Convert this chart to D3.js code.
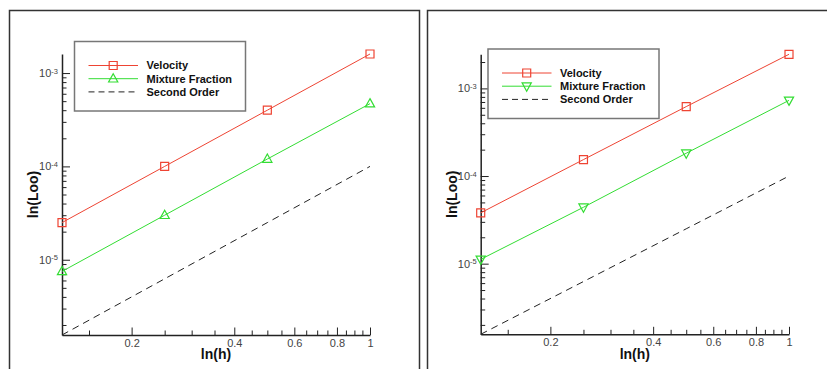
<!DOCTYPE html>
<html>
<head>
<meta charset="utf-8">
<script src="https://cdn.jsdelivr.net/npm/d3@7"></script>
<style>
  body { margin: 0; background: #fff; }
  svg { display: block; font-family: "Liberation Sans", Arial, sans-serif; }
</style>
</head>
<body>
<div id="graph-container"></div>
<script>
const width = 827, height = 369;

// grid spacing h (shared by both panels)
const hValues = [0.125, 0.25, 0.5, 1];

// left panel errors
const velocityLeft = [2.5e-5, 1.0e-4, 4.0e-4, 1.6e-3];
const mixtureLeft = [7.5e-6, 3.0e-5, 1.2e-4, 4.7e-4];

// right panel errors
const velocityRight = [3.8e-5, 1.54e-4, 6.2e-4, 2.45e-3];
const mixtureRight = [1.12e-5, 4.4e-5, 1.82e-4, 7.3e-4];

// reference slope line
const secondOrder = [1.5625e-6, 6.25e-6, 2.5e-5, 1.0e-4];

const legendLabels = ["Velocity", "Mixture Fraction", "Second Order"];
const xMajorTicks = [0.2, 0.4, 0.6, 0.8, 1];
const xTickLabels = ["0.2", "0.4", "0.6", "0.8", "1"];
const xMinorTicks = [0.15, 0.25, 0.3, 0.35, 0.45, 0.5, 0.55, 0.65, 0.7, 0.75, 0.85, 0.9, 0.95];
const yMajorTicks = [1e-5, 1e-4, 1e-3];
const yTickLabels = ["-5", "-4", "-3"];

const red = "#ee4433", green = "#33dd33";

const svg = d3.select("#graph-container").append("svg")
  .attr("width", width)
  .attr("height", height)
  .attr("viewBox", [0, 0, width, height]);

// panel frames
svg.append("path")
  .attr("d", "M9.5,369V10.5H419.5V369")
  .attr("fill", "none").attr("stroke", "#333").attr("stroke-width", 1.5);
svg.append("path")
  .attr("d", "M427.5,369V10.5H827")
  .attr("fill", "none").attr("stroke", "#333").attr("stroke-width", 1.5);

function marker(shape) {
  if (shape === "square") return "M-4,-4H4V4H-4Z";
  if (shape === "up") return "M0,-5L4.6,3.3H-4.6Z";
  return "M0,5L4.6,-3.3H-4.6Z";
}

function panel(opt) {
  const g = svg.append("g");

  const x = d3.scaleLog().domain([0.125, 1]).range(opt.xRange);
  const y = d3.scaleLog().domain([secondOrder[0], d3.max(opt.velocity)]).range(opt.yRange);

  // y minor ticks
  const yMinor = [];
  for (let e = -6; e <= -3; e++) {
    for (let m = 2; m <= 9; m++) {
      const v = m * Math.pow(10, e);
      if (v >= y.domain()[0] && v <= y.domain()[1]) yMinor.push(v);
    }
  }

  g.append("g")
    .attr("transform", `translate(${opt.xRange[0]},0)`)
    .call(d3.axisLeft(y).tickValues(yMinor).tickFormat("").tickSizeInner(-4.5).tickSizeOuter(0))
    .call(a => a.select(".domain").remove())
    .call(a => a.selectAll("line").attr("stroke", "#222"));

  const gy = g.append("g")
    .attr("transform", `translate(${opt.xRange[0]},0)`)
    .call(d3.axisLeft(y).tickValues(yMajorTicks).tickSizeInner(-8).tickSizeOuter(0).tickPadding(4)
      .tickFormat(""));
  gy.select(".domain").attr("stroke", "#222").attr("stroke-width", 1.5);
  gy.selectAll("line").attr("stroke", "#222");
  gy.selectAll(".tick text")
    .attr("fill", "#444")
    .attr("font-size", 11)
    .attr("font-family", "Liberation Sans, Arial, sans-serif")
    .each(function(d, i) {
      const t = d3.select(this);
      t.append("tspan").text("10");
      t.append("tspan").attr("dy", "-0.45em").attr("font-size", 7.5).text(yTickLabels[i]);
    });

  // x axis
  g.append("g")
    .attr("transform", `translate(0,${opt.yRange[0]})`)
    .call(d3.axisBottom(x).tickValues(xMinorTicks).tickFormat("").tickSizeInner(-4.5).tickSizeOuter(0))
    .call(a => a.select(".domain").remove())
    .call(a => a.selectAll("line").attr("stroke", "#222"));

  const gx = g.append("g")
    .attr("transform", `translate(0,${opt.yRange[0]})`)
    .call(d3.axisBottom(x).tickValues(xMajorTicks).tickSizeInner(-7.5).tickSizeOuter(0).tickPadding(4)
      .tickFormat((d, i) => xTickLabels[i]));
  gx.select(".domain").attr("stroke", "#222").attr("stroke-width", 1.5);
  gx.selectAll("line").attr("stroke", "#222");
  gx.selectAll("text")
    .attr("fill", "#444")
    .attr("font-size", 11)
    .attr("font-family", "Liberation Sans, Arial, sans-serif");

  // axis titles
  g.append("text")
    .attr("x", (opt.xRange[0] + opt.xRange[1]) / 2)
    .attr("y", 359)
    .attr("text-anchor", "middle")
    .attr("font-size", 14).attr("font-weight", "bold").attr("fill", "#111")
    .text("ln(h)");
  g.append("text")
    .attr("transform", `translate(${opt.yTitleX},${(opt.yRange[0] + opt.yRange[1]) / 2}) rotate(-90)`)
    .attr("text-anchor", "middle")
    .attr("dy", "0.35em")
    .attr("font-size", 14).attr("font-weight", "bold").attr("fill", "#111")
    .text("ln(Loo)");

  const line = d3.line()
    .x((d, i) => x(hValues[i]))
    .y(d => y(d));

  g.append("path")
    .datum(secondOrder)
    .attr("fill", "none").attr("stroke", "#222").attr("stroke-width", 1)
    .attr("stroke-dasharray", "7,5")
    .attr("d", line);

  const series = [
    { values: opt.velocity, color: red, shape: "square" },
    { values: opt.mixture, color: green, shape: opt.triangle }
  ];

  series.forEach(s => {
    g.append("path")
      .datum(s.values)
      .attr("fill", "none").attr("stroke", s.color).attr("stroke-width", 1)
      .attr("d", line);
    g.selectAll(null)
      .data(s.values)
      .join("path")
      .attr("transform", (d, i) => `translate(${x(hValues[i])},${y(d)})`)
      .attr("d", marker(s.shape))
      .attr("fill", "none").attr("stroke", s.color).attr("stroke-width", 1.2);
  });

  // legend
  const lg = g.append("g").attr("transform", `translate(${opt.legend[0]},${opt.legend[1]})`);
  lg.append("rect")
    .attr("width", 171).attr("height", 69.5)
    .attr("fill", "#fff").attr("stroke", "#777").attr("stroke-width", 1.5);
  const items = [
    { color: red, shape: "square" },
    { color: green, shape: opt.triangle },
    { color: "#222", dash: "6,4" }
  ];
  items.forEach((it, i) => {
    const yy = 24 + i * 13.2;
    lg.append("line")
      .attr("x1", 14).attr("x2", 63.5).attr("y1", yy).attr("y2", yy)
      .attr("stroke", it.color).attr("stroke-width", 1)
      .attr("stroke-dasharray", it.dash || null);
    if (it.shape) {
      lg.append("path")
        .attr("transform", `translate(38.7,${yy})`)
        .attr("d", marker(it.shape))
        .attr("fill", "none").attr("stroke", it.color).attr("stroke-width", 1.2);
    }
    lg.append("text")
      .attr("x", 72).attr("y", yy).attr("dy", "0.35em")
      .attr("font-size", 11).attr("font-weight", "bold").attr("fill", "#111")
      .text(legendLabels[i]);
  });
}

panel({
  xRange: [62, 370], yRange: [335, 54],
  velocity: velocityLeft, mixture: mixtureLeft, triangle: "up",
  legend: [74.5, 41.5], yTitleX: 33
});

panel({
  xRange: [480.7, 789], yRange: [334.3, 54.3],
  velocity: velocityRight, mixture: mixtureRight, triangle: "down",
  legend: [488, 49], yTitleX: 452
});
</script>
</body>
</html>
